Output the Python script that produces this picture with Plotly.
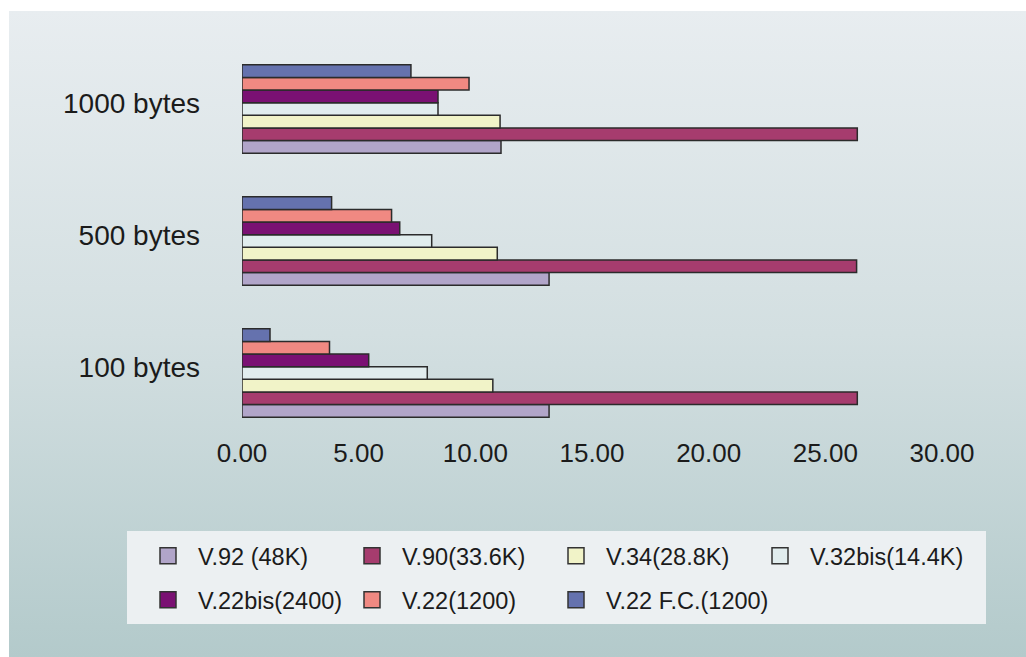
import base64
import plotly.graph_objects as go

# ---- data ----
categories = ["100 bytes", "500 bytes", "1000 bytes"]
series_names = ["V.92 (48K)", "V.90(33.6K)", "V.34(28.8K)", "V.32bis(14.4K)",
                "V.22bis(2400)", "V.22(1200)", "V.22 F.C.(1200)"]
v92 = [13.16, 13.16, 11.10]
v90 = [26.37, 26.34, 26.37]
v34 = [10.75, 10.94, 11.06]
v32bis = [7.94, 8.13, 8.40]
v22bis = [5.43, 6.76, 8.40]
v22 = [3.75, 6.41, 9.73]
v22fc = [1.20, 3.84, 7.24]
series_values = [v92, v90, v34, v32bis, v22bis, v22, v22fc]
x_tick_values = [0, 5, 10, 15, 20, 25, 30]
x_tick_labels = ["0.00", "5.00", "10.00", "15.00", "20.00", "25.00", "30.00"]

colors = ["#B1A5C9", "#A63C6E", "#F1F3C8", "#E1EDEE",
          "#7A1173", "#F08982", "#6572AE"]
legend_ids = ["legend", "legend", "legend", "legend",
              "legend2", "legend2", "legend2"]
row_last = [False, False, False, True, False, False, True]

W, H = 1026, 657
L, R, T, B = 242, 84, 43, 218
PW, PH = W - L - R, H - T - B


def px(xp):
    return (xp - L) / PW


def py(yp):
    return (H - B - yp) / PH


FONT = "Liberation Sans, Arial, sans-serif"
TXT = "#1b1b1b"

fig = go.Figure()
for name, vals, col in zip(series_names, series_values, colors):
    fig.add_trace(go.Bar(
        y=categories, x=vals, name=name, orientation="h",
        marker=dict(color=col, line=dict(color="#2b2b2b", width=1.5)),
        showlegend=False, legendgroup=name, hoverinfo="x+name",
    ))
for name, col, lg, last in zip(series_names, colors, legend_ids, row_last):
    extra = dict(legendwidth=200) if last else {}
    fig.add_trace(go.Scatter(
        x=[None], y=[None], mode="markers", name=name, legend=lg,
        legendgroup=name,
        marker=dict(symbol="square", size=16, color=col,
                    line=dict(color="#333333", width=1.5)),
        **extra,
    ))

svg = ('<svg xmlns="http://www.w3.org/2000/svg" width="100" height="100" '
       'viewBox="0 0 100 100" preserveAspectRatio="none">'
       '<defs><linearGradient id="g" x1="0" y1="0" x2="0" y2="1">'
       '<stop offset="0" stop-color="#E8EDF0"/>'
       '<stop offset="0.5" stop-color="#D3DFE1"/>'
       '<stop offset="1" stop-color="#B3CACB"/>'
       '</linearGradient></defs>'
       '<rect x="0" y="0" width="100" height="100" fill="url(#g)"/></svg>')
svg_uri = "data:image/svg+xml;base64," + base64.b64encode(svg.encode()).decode()

legend_common = dict(
    orientation="h", xanchor="left", yanchor="middle",
    bgcolor="rgba(0,0,0,0)", borderwidth=0,
    font=dict(family=FONT, size=23.5, color=TXT),
    itemwidth=50, entrywidth=139, entrywidthmode="pixels",
    itemclick=False, itemdoubleclick=False,
)

fig.update_layout(
    width=W, height=H,
    margin=dict(l=L, r=R, t=T, b=B, autoexpand=False),
    paper_bgcolor="white", plot_bgcolor="rgba(0,0,0,0)",
    barmode="group", bargap=0.33, bargroupgap=0,
    font=dict(family=FONT, color=TXT),
    legend=dict(x=px(138), y=py(556), **legend_common),
    legend2=dict(x=px(138), y=py(600), **legend_common),
    images=[dict(source=svg_uri, xref="paper", yref="paper",
                 x=px(9), y=py(11), sizex=(W - 9) / PW, sizey=(H - 11) / PH,
                 xanchor="left", yanchor="top", sizing="stretch",
                 layer="below")],
    shapes=[dict(type="rect", xref="paper", yref="paper",
                 x0=px(127), x1=px(986), y0=py(624), y1=py(531),
                 fillcolor="#ECF0F2", line=dict(width=0), layer="below")],
)
fig.update_xaxes(range=[0, 30], tickvals=x_tick_values, ticktext=x_tick_labels,
                 showgrid=False, zeroline=False, showline=False, ticks="",
                 tickfont=dict(family=FONT, size=26, color=TXT),
                 ticklabelstandoff=-4, fixedrange=True)
fig.update_yaxes(categoryorder="array", categoryarray=categories,
                 range=[-0.5, 2.5], showgrid=False, zeroline=False,
                 showline=False, ticks="",
                 tickfont=dict(family=FONT, size=28, color=TXT),
                 ticklabelstandoff=41, ticklabelshift=-6, fixedrange=True)

fig.write_html("out.html", post_script="document.body.style.margin='0';",
               config={"displayModeBar": False})
